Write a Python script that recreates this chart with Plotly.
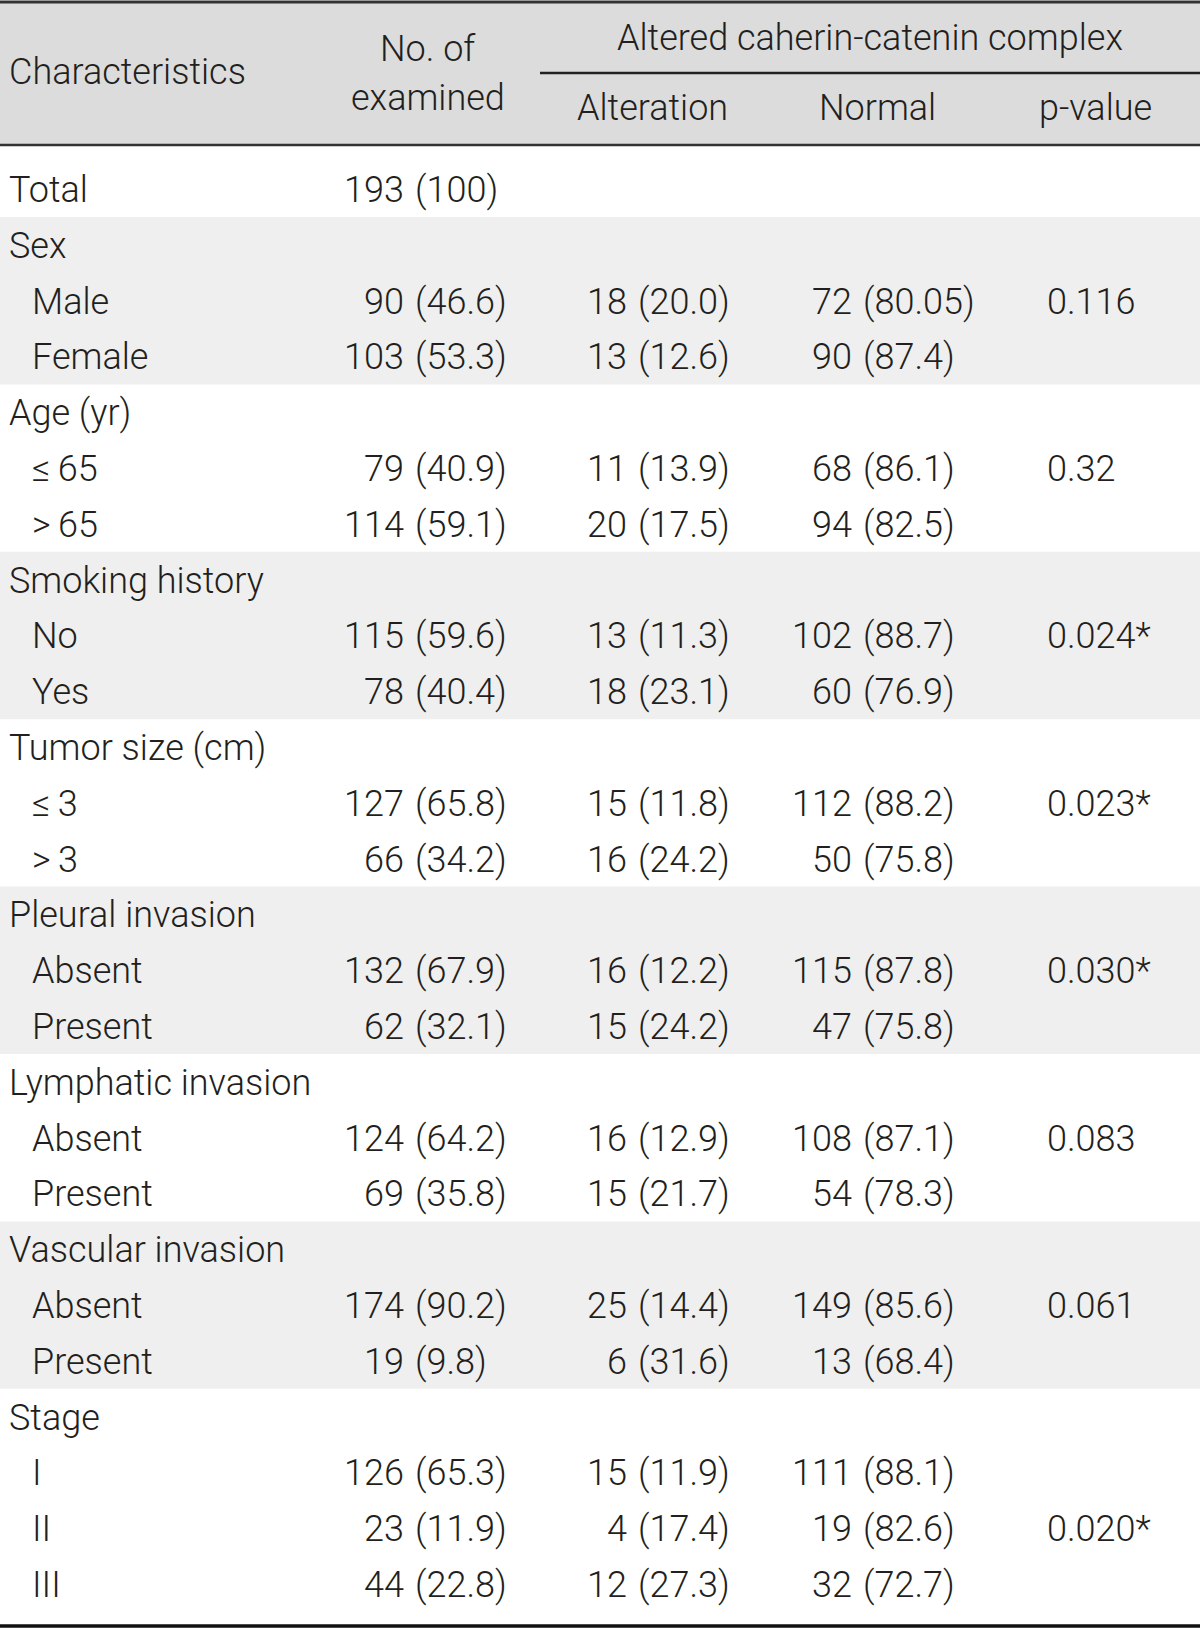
import plotly.graph_objects as go

# ---- data ----
characteristics = ["Total", "Sex", "Male", "Female", "Age (yr)", "≤\u200965", ">\u200965",
                   "Smoking history", "No", "Yes", "Tumor size (cm)", "≤\u20093", ">\u20093",
                   "Pleural invasion", "Absent", "Present", "Lymphatic invasion",
                   "Absent", "Present", "Vascular invasion", "Absent", "Present",
                   "Stage", "I", "II", "III"]
is_group = [True, True, False, False, True, False, False, True, False, False,
            True, False, False, True, False, False, True, False, False, True,
            False, False, True, False, False, False]
examined = ["193 (100)", "", "90 (46.6)", "103 (53.3)", "", "79 (40.9)", "114 (59.1)",
            "", "115 (59.6)", "78 (40.4)", "", "127 (65.8)", "66 (34.2)", "",
            "132 (67.9)", "62 (32.1)", "", "124 (64.2)", "69 (35.8)", "",
            "174 (90.2)", "19 (9.8)", "", "126 (65.3)", "23 (11.9)", "44 (22.8)"]
alteration = ["", "", "18 (20.0)", "13 (12.6)", "", "11 (13.9)", "20 (17.5)", "",
              "13 (11.3)", "18 (23.1)", "", "15 (11.8)", "16 (24.2)", "",
              "16 (12.2)", "15 (24.2)", "", "16 (12.9)", "15 (21.7)", "",
              "25 (14.4)", "6 (31.6)", "", "15 (11.9)", "4 (17.4)", "12 (27.3)"]
normal = ["", "", "72 (80.05)", "90 (87.4)", "", "68 (86.1)", "94 (82.5)", "",
          "102 (88.7)", "60 (76.9)", "", "112 (88.2)", "50 (75.8)", "",
          "115 (87.8)", "47 (75.8)", "", "108 (87.1)", "54 (78.3)", "",
          "149 (85.6)", "13 (68.4)", "", "111 (88.1)", "19 (82.6)", "32 (72.7)"]
p_values = ["", "", "0.116", "", "", "0.32", "", "", "0.024*", "", "", "0.023*", "",
            "", "0.030*", "", "", "0.083", "", "", "0.061", "", "", "", "0.020*", ""]
shaded_groups = ["Sex", "Smoking history", "Pleural invasion", "Vascular invasion"]
header_top = "Altered caherin-catenin complex"
header_sub = ["Alteration", "Normal", "p-value"]

# ---- layout constants ----
W, H = 1200, 1628
FONT = "Roboto, Liberation Sans, Arial, sans-serif"
FS = 36
TXT = "#231f20"
pitch = 55.8
y0 = 190
band_top = 217

shapes = []
annotations = []

def ann(x, y, text, xanchor="left", size=FS):
    annotations.append(dict(x=x, y=y, xref="x", yref="y", text=text, showarrow=False,
                            xanchor=xanchor, yanchor="middle", borderpad=0,
                            font=dict(family=FONT, size=size, color=TXT, weight=300)))

# header background
shapes.append(dict(type="rect", xref="x", yref="y", x0=0, x1=W, y0=2, y1=145,
                   fillcolor="#dcdcdc", line_width=0, layer="below"))

# shaded group bands
n = len(characteristics)
i = 0
while i < n:
    if is_group[i] and i > 0:
        j = i + 1
        while j < n and not is_group[j]:
            j += 1
        if characteristics[i] in shaded_groups:
            top = band_top + (i - 1) * pitch
            bot = band_top + (j - 1) * pitch
            shapes.append(dict(type="rect", xref="x", yref="y", x0=0, x1=W, y0=top, y1=bot,
                               fillcolor="#efefef", line_width=0, layer="below"))
        i = j
    else:
        i += 1

# rules
shapes.append(dict(type="line", xref="x", yref="y", x0=0, x1=W, y0=2, y1=2,
                   line=dict(color="#333333", width=3)))
shapes.append(dict(type="line", xref="x", yref="y", x0=540, x1=W, y0=73, y1=73,
                   line=dict(color="#222222", width=2.5)))
shapes.append(dict(type="line", xref="x", yref="y", x0=0, x1=W, y0=145, y1=145,
                   line=dict(color="#333333", width=2.5)))
shapes.append(dict(type="line", xref="x", yref="y", x0=0, x1=W, y0=1626, y1=1626,
                   line=dict(color="#111111", width=3.5)))

# header text
ann(8, 72, "Characteristics")
ann(428, 49, "No. of", xanchor="center")
ann(428, 98, "examined", xanchor="center")
ann(870, 38, header_top, xanchor="center")
for x, t in zip([652, 877, 1095], header_sub):
    ann(x, 108, t, xanchor="center")

# body
paren_x = [414, 637, 862]
for k in range(n):
    y = y0 + k * pitch
    ann(8 if is_group[k] else 31, y, characteristics[k])
    for px, col in zip(paren_x, [examined, alteration, normal]):
        s = col[k]
        if s:
            num, par = s.split(" ", 1)
            ann(px - 9, y, num, xanchor="right")
            ann(px, y, par, xanchor="left")
    if p_values[k]:
        ann(1046, y, p_values[k])

fig = go.Figure()
fig.add_trace(go.Scatter(x=[0, W], y=[0, H], mode="markers", marker=dict(opacity=0),
                         hoverinfo="skip", showlegend=False))
fig.update_layout(width=W, height=H, margin=dict(l=0, r=0, t=0, b=0),
                  paper_bgcolor="white", plot_bgcolor="white",
                  xaxis=dict(range=[0, W], visible=False, fixedrange=True),
                  yaxis=dict(range=[H, 0], visible=False, fixedrange=True),
                  shapes=shapes, annotations=annotations, showlegend=False)
fig.write_html("out.html", config={"displayModeBar": False},
               post_script="document.body.style.margin='0';document.body.style.overflow='hidden';")
